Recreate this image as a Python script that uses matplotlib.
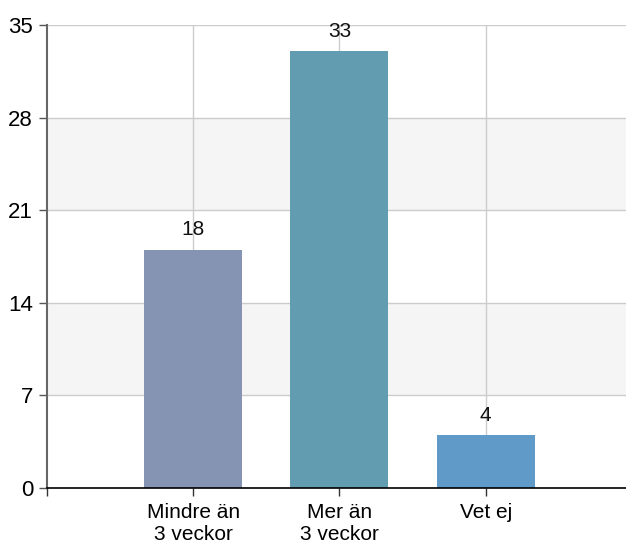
import matplotlib
matplotlib.use("Agg")
import matplotlib.pyplot as plt

categories = ["Mindre än\n3 veckor", "Mer än\n3 veckor", "Vet ej"]
values = [18, 33, 4]
colors = ["#8594b3", "#629cb0", "#5f9ac9"]
yticks = [0, 7, 14, 21, 28, 35]

plt.rcParams['font.family'] = ['Liberation Sans', 'DejaVu Sans']

fig = plt.figure(figsize=(6.26, 5.44), dpi=100)
ax = fig.add_axes([47/626, 1 - 488/544, 1 - 47/626, (488 - 25)/544])

# bands
for lo in (7, 21):
    ax.axhspan(lo, lo + 7, color="#f5f5f5", zorder=0, lw=0)
for y in yticks[1:]:
    ax.axhline(y, color="#cccccc", lw=1, zorder=1)
x = list(range(len(categories)))
for xi in x:
    ax.axvline(xi, color="#cccccc", lw=1, zorder=1)

ax.bar(x, values, width=0.67, color=colors, zorder=2)
for xi, v in zip(x, values):
    ax.text(xi, v + 0.8, str(v), ha="center", va="bottom", fontsize=15, color="#111111", zorder=3)

ax.set_ylim(0, 35)
ax.set_xlim(-1, 2.96)
ax.set_yticks(yticks)
ax.set_yticklabels([str(t) for t in yticks], fontsize=16)
ax.set_xticks([-1] + x)
ax.set_xticklabels([""] + categories, fontsize=15, linespacing=1.15)
ax.tick_params(axis="y", length=6, width=1, color="#555555", pad=4)
ax.tick_params(axis="x", length=6, width=1, color="#333333", pad=5)

for s in ("top", "right"):
    ax.spines[s].set_visible(False)
ax.spines["left"].set_color("#666666")
ax.spines["left"].set_linewidth(1.5)
ax.spines["bottom"].set_color("#000000")
ax.spines["bottom"].set_linewidth(1.2)
ax.spines["bottom"].set_zorder(4)

fig.savefig("out.png", dpi=100)
